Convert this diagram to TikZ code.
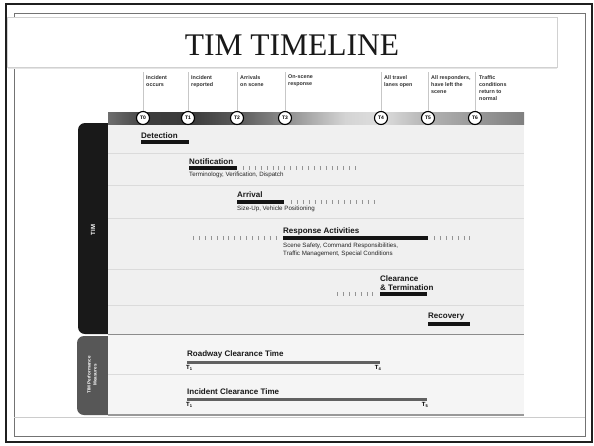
\documentclass[tikz,border=0pt]{standalone}
\usepackage{fontspec}
\setmainfont{Liberation Serif}
\newfontfamily\lab{Liberation Sans}
\newcommand\Tsub[1]{T\raisebox{-1.3pt}{\fontsize{4}{4}\selectfont #1}}
\begin{document}
\begin{tikzpicture}[x=1pt,y=-1pt,
  lbl/.style={font=\lab\bfseries\fontsize{8}{9}\selectfont, inner sep=0pt, anchor=south west, text=black!90},
  sub/.style={font=\lab\fontsize{6.2}{7.5}\selectfont, inner sep=0pt, anchor=north west, align=left, text=black!85},
  toplbl/.style={font=\lab\bfseries\fontsize{5.4}{7}\selectfont, inner sep=0pt, anchor=north west, align=left, text=black!80},
  tcirc/.style={circle, draw=black, line width=1.1pt, fill=white, minimum size=13pt, inner sep=0pt, font=\lab\bfseries\fontsize{5}{5}\selectfont},
  leader/.style={draw=black!22, line width=0.9pt},
  phase/.style={line width=3.5pt, black!92},
  ticks/.style={line width=3.5pt, black!42, dash pattern=on 0.9pt off 5pt},
  sep/.style={draw=black!14, line width=0.8pt},
  meas/.style={line width=3pt, black!62},
  sublbl/.style={font=\lab\bfseries\fontsize{6}{6}\selectfont, inner sep=0pt, anchor=north},
]
\useasboundingbox (0,0) rectangle (594,445);
\fill[white] (0,0) rectangle (594,445);
% frames
\draw[black!88, line width=2.5pt] (6,4) rectangle (592,442);
\draw[black!55, line width=1pt] (14,13) rectangle (585,436);
\draw[black!20, line width=1pt] (14,417) -- (585,417);
% title box
\draw[black!10, line width=2.5pt] (8,67.5) -- (557,67.5);
\draw[black!18, line width=0.9pt, fill=white] (7,17) rectangle (557,67);
\node[font=\fontsize{31.5}{31.5}\selectfont, text=black!90] (title) at (292,45) {TIM TIMELINE};

% tabs
\fill[black!90, rounded corners=7pt] (78,123) rectangle (118,334);
\fill[black!66, rounded corners=7pt] (77,336) rectangle (118,415);
% panels
\fill[black!6] (108,124) rectangle (524,334);
\fill[black!4] (108,334) rectangle (524,415);
\draw[black!45, line width=1.2pt] (108,334.5) -- (524,334.5);
\draw[black!40, line width=1.2pt] (108,415) -- (524,415);
\draw[sep] (108,153) -- (524,153);
\draw[sep] (108,185) -- (524,185);
\draw[sep] (108,218) -- (524,218);
\draw[sep] (108,269) -- (524,269);
\draw[sep] (108,305) -- (524,305);
\draw[sep] (108,374) -- (524,374);

\node[rotate=90, text=white, font=\lab\bfseries\fontsize{6}{6}\selectfont, inner sep=0pt] (tim) at (93,230) {TIM};
\node[rotate=90, text=white, align=center, font=\lab\bfseries\fontsize{4.6}{6}\selectfont, inner sep=0pt] (pm) at (92,375) {TIM Performance\\Measures};

% timeline bar
\shade[left color=black!57, right color=black!76] (108,112) rectangle (150,124);
\shade[left color=black!76, right color=black!77] (149.8,112) rectangle (190,124);
\shade[left color=black!77, right color=black!65] (189.8,112) rectangle (237,124);
\shade[left color=black!65, right color=black!45] (236.8,112) rectangle (285,124);
\shade[left color=black!45, right color=black!17] (284.8,112) rectangle (345,124);
\shade[left color=black!17, right color=black!13] (344.8,112) rectangle (381,124);
\shade[left color=black!13, right color=black!30] (380.8,112) rectangle (428,124);
\shade[left color=black!30, right color=black!40] (427.8,112) rectangle (475,124);
\shade[left color=black!40, right color=black!50] (474.8,112) rectangle (524,124);

% leader coordinates
\coordinate (l0) at (143,72);
\coordinate (l1) at (188,72);
\coordinate (l2) at (237,72);
\coordinate (l3) at (285,72);
\coordinate (l4) at (381,72);
\coordinate (l5) at (428,72);
\coordinate (l6) at (475,72);

\node[tcirc] (t0) at (143,118) {T0};
\node[tcirc] (t1) at (188,118) {T1};
\node[tcirc] (t2) at (237,118) {T2};
\node[tcirc] (t3) at (285,118) {T3};
\node[tcirc] (t4) at (381,118) {T4};
\node[tcirc] (t5) at (428,118) {T5};
\node[tcirc] (t6) at (475,118) {T6};

\draw[leader] (t0.north) -- (l0);
\draw[leader] (t1.north) -- (l1);
\draw[leader] (t2.north) -- (l2);
\draw[leader] (t3.north) -- (l3);
\draw[leader] (t4.north) -- (l4);
\draw[leader] (t5.north) -- (l5);
\draw[leader] (t6.north) -- (l6);

\node[toplbl] (d0) at (146,75) {Incident\\occurs};
\node[toplbl] (d1) at (191,75) {Incident\\reported};
\node[toplbl] (d2) at (240,75) {Arrivals\\on scene};
\node[toplbl] (d3) at (288,75) {On-scene\\response};
\node[toplbl] (d4) at (384,75) {All travel\\lanes open};
\node[toplbl] (d5) at (431,75) {All responders,\\have left the\\scene};
\node[toplbl] (d6) at (479,75) {Traffic\\conditions\\return to\\normal};

% phases
\node[lbl] (det) at (141,139) {Detection};
\draw[phase] (141,142) -- (189,142);

\node[lbl] (not) at (189,165) {Notification};
\draw[phase] (189,168) -- (237,168);
\draw[ticks] (243,168) -- (357,168);
\node[sub] (notsub) at (189,172) {Terminology, Verification, Dispatch};

\node[lbl] (arr) at (237,198) {Arrival};
\draw[phase] (237,202) -- (284,202);
\draw[ticks] (291,202) -- (379,202);
\node[sub] (arrsub) at (237,206) {Size-Up, Vehicle Positioning};

\node[lbl] (res) at (283,235) {Response Activities};
\draw[ticks] (193,238) -- (281,238);
\draw[phase] (283,238) -- (428,238);
\draw[ticks] (434,238) -- (473,238);
\node[sub] (ressub) at (283,243) {Scene Safety, Command Responsibilities,\\Traffic Management, Special Conditions};

\node[lbl, align=left] (clr) at (380,291) {Clearance\\\& Termination};
\draw[ticks] (337,294) -- (377,294);
\draw[phase] (380,294) -- (427,294);

\node[lbl] (rec) at (428,320) {Recovery};
\draw[phase] (428,324) -- (470,324);

% performance measures
\node[lbl] (rct) at (187,358) {Roadway Clearance Time};
\draw[meas] (187,362) -- (380,362);
\node[sublbl, anchor=north west] (r1) at (186,365) {\Tsub{1}};
\node[sublbl, anchor=north east] (r4) at (381,365) {\Tsub{4}};

\node[lbl] (ict) at (187,395) {Incident Clearance Time};
\draw[meas] (187,399) -- (427,399);
\node[sublbl, anchor=north west] (i1) at (186,402) {\Tsub{1}};
\node[sublbl, anchor=north east] (i5) at (428,402) {\Tsub{5}};
\end{tikzpicture}
\end{document}
